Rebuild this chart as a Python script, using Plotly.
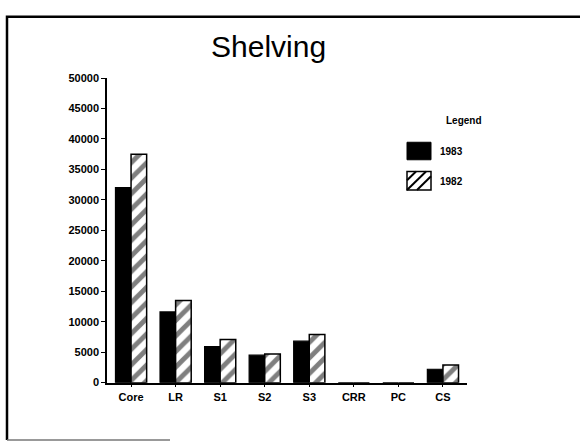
import plotly.graph_objects as go

categories = ["Core", "LR", "S1", "S2", "S3", "CRR", "PC", "CS"]
values_1983 = [32000, 11600, 5900, 4500, 6800, 0, 0, 2200]
values_1982 = [37500, 13500, 7100, 4700, 7900, 0, 0, 2900]
series_names = ["1983", "1982"]
y_ticks = [0, 5000, 10000, 15000, 20000, 25000, 30000, 35000, 40000, 45000, 50000]

W, H = 580, 448
PLOT_X0, PLOT_X1 = 107, 467
PLOT_Y0, PLOT_Y1 = 74, 387


def px(x):
    return x / W


def py(y):
    return 1 - y / H


fig = go.Figure()
fig.add_trace(go.Bar(
    x=categories, y=values_1983, name=series_names[0],
    marker=dict(color="black", line=dict(color="black", width=1.2)),
    showlegend=False, xaxis="x", yaxis="y",
))
fig.add_trace(go.Bar(
    x=categories, y=values_1982, name=series_names[1],
    marker=dict(color="white", line=dict(color="black", width=1.5),
                pattern=dict(shape="/", fgcolor="black", bgcolor="white",
                             size=11, solidity=0.45)),
    showlegend=False, xaxis="x", yaxis="y",
))

# page frame (scanned border) drawn on a full-page overlay axis in pixel units
fig.add_trace(go.Scatter(
    x=[582, 7, 7], y=[11, 11, 446], mode="lines",
    line=dict(color="black", width=2.5), hoverinfo="skip",
    showlegend=False, xaxis="x2", yaxis="y2",
))
fig.add_trace(go.Scatter(
    x=[7, 170], y=[446, 446], mode="lines",
    line=dict(color="#777", width=1.5), hoverinfo="skip",
    showlegend=False, xaxis="x2", yaxis="y2",
))

shapes = []
bx0, bx1 = 407, 431
shapes.append(dict(type="rect", xref="paper", yref="paper",
                   x0=px(bx0), x1=px(bx1), y0=py(158), y1=py(140),
                   fillcolor="black", line=dict(color="black", width=1)))
hy0, hy1 = 170, 189
shapes.append(dict(type="rect", xref="paper", yref="paper",
                   x0=px(bx0), x1=px(bx1), y0=py(hy1), y1=py(hy0),
                   fillcolor="white", line=dict(color="black", width=1.5)))


def clip_diag(c):
    pts = []
    for x in (bx0, bx1):
        y = c - x
        if hy0 <= y <= hy1:
            pts.append((x, y))
    for y in (hy0, hy1):
        x = c - y
        if bx0 <= x <= bx1:
            pts.append((x, y))
    pts = sorted(set(pts))
    return pts[0], pts[-1]


for c in (bx0 + hy0 + 9, bx0 + hy0 + 19, bx0 + hy0 + 29):
    (xa, ya), (xb, yb) = clip_diag(c)
    shapes.append(dict(type="line", xref="paper", yref="paper",
                       x0=px(xa), y0=py(ya), x1=px(xb), y1=py(yb),
                       line=dict(color="black", width=2)))

annotations = [
    dict(text="Shelving", xref="paper", yref="paper", x=px(268), y=py(42),
         xanchor="center", yanchor="middle", showarrow=False,
         font=dict(family="Arial, Liberation Sans", size=30, color="black")),
    dict(text="<b>Legend</b>", xref="paper", yref="paper", x=px(464), y=py(118),
         xanchor="center", yanchor="middle", showarrow=False,
         font=dict(family="Arial, Liberation Sans", size=10, color="black")),
    dict(text="<b>" + series_names[0] + "</b>", xref="paper", yref="paper",
         x=px(438), y=py(150), xanchor="left", yanchor="middle", showarrow=False,
         font=dict(family="Arial, Liberation Sans", size=10, color="black")),
    dict(text="<b>" + series_names[1] + "</b>", xref="paper", yref="paper",
         x=px(438), y=py(180), xanchor="left", yanchor="middle", showarrow=False,
         font=dict(family="Arial, Liberation Sans", size=10, color="black")),
]

tick_font = dict(family="Arial, Liberation Sans", size=11, color="black", weight="bold")

fig.update_layout(
    width=W, height=H,
    margin=dict(l=0, r=0, t=0, b=0, pad=0),
    paper_bgcolor="white", plot_bgcolor="rgba(0,0,0,0)",
    barmode="group", bargap=0.3, bargroupgap=0,
    shapes=shapes, annotations=annotations,
    font=dict(family="Arial, Liberation Sans", color="black"),
    xaxis=dict(
        domain=[px(PLOT_X0), px(PLOT_X1)], anchor="y",
        range=[-0.54, 7.54], showgrid=False, showline=True,
        linecolor="black", linewidth=1.5, ticks="outside", ticklen=3,
        tickcolor="black", tickwidth=1, tickfont=tick_font, fixedrange=True,
    ),
    yaxis=dict(
        domain=[py(PLOT_Y1), py(PLOT_Y0)], anchor="x",
        range=[0, 50000], tickvals=y_ticks, ticktext=[str(v) for v in y_ticks],
        showgrid=False, zeroline=False, showline=True,
        linecolor="black", linewidth=1.5, ticks="outside", ticklen=4,
        tickcolor="black", tickwidth=1, tickfont=tick_font, fixedrange=True,
    ),
    xaxis2=dict(domain=[0, 1], anchor="y2", range=[0, W], visible=False,
                fixedrange=True),
    yaxis2=dict(domain=[0, 1], anchor="x2", range=[H, 0], visible=False,
                fixedrange=True),
)

fig.write_html(
    "out.html",
    config={"displayModeBar": False},
    post_script="document.body.style.margin='0';document.body.style.overflow='hidden';",
)
